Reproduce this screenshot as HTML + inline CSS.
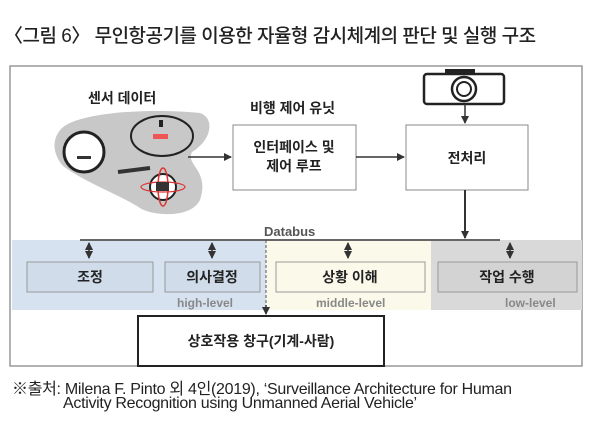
<!DOCTYPE html>
<html><head><meta charset="utf-8"><style>
body{margin:0;width:600px;height:431px;background:#fff;overflow:hidden;font-family:"Liberation Sans","Noto Sans CJK KR",sans-serif;}
.a{position:absolute}
.t{font-size:19px;left:4px;top:21px;color:#222;letter-spacing:-0.5px;font-weight:500}
.s{font-size:16px;color:#222;left:12px;letter-spacing:-0.3px}
</style></head><body>
<div class="a t">〈그림 6〉 무인항공기를 이용한 자율형 감시체계의 판단 및 실행 구조</div>
<svg class="a" style="left:0;top:0" width="600" height="431" xmlns="http://www.w3.org/2000/svg" font-family="Liberation Sans,Noto Sans CJK KR,sans-serif">
<defs><marker id="ar" markerUnits="userSpaceOnUse" markerWidth="8" markerHeight="8" refX="7" refY="4" orient="auto"><path d="M0,0 L8,4 L0,8 z" fill="#333"/></marker>
<marker id="ar2" markerUnits="userSpaceOnUse" markerWidth="8" markerHeight="8" refX="7" refY="4" orient="auto-start-reverse"><path d="M0,0 L8,4 L0,8 z" fill="#333"/></marker></defs>
<rect x="10" y="66" width="572" height="300" fill="#fff" stroke="#999" stroke-width="1.5"/>
<path d="M62,128 C80,112 150,108 200,113 C215,118 212,140 192,152 C185,165 210,170 200,200 C190,220 150,215 140,208 C120,195 80,180 62,165 C52,152 52,138 62,128Z" fill="#c8c8c8"/>
<circle cx="84" cy="152" r="20" fill="#fff" stroke="#222" stroke-width="3"/>
<rect x="77" y="156" width="14" height="3" fill="#333"/>
<ellipse cx="162" cy="136" rx="31" ry="20" fill="none" stroke="#222" stroke-width="2"/>
<rect x="159" y="120" width="4" height="7" fill="#222"/><rect x="153" y="134" width="15" height="5" fill="#e55"/>
<path d="M118,172 L150,168" stroke="#333" stroke-width="4"/>
<circle cx="163" cy="187" r="13" fill="#fff" stroke="#222" stroke-width="2"/>
<ellipse cx="163" cy="187" rx="5" ry="19" fill="none" stroke="#d33" stroke-width="1.5"/>
<ellipse cx="163" cy="187" rx="22" ry="5" fill="none" stroke="#d33" stroke-width="1.2"/>
<rect x="156" y="182" width="13" height="9" fill="#333"/>
<text x="88" y="103" font-size="14" font-weight="bold" fill="#222">센서 데이터</text>
<text x="250" y="113" font-size="14" font-weight="bold" fill="#222">비행 제어 유닛</text>
<line x1="188" y1="157" x2="231" y2="157" stroke="#333" stroke-width="1.5" marker-end="url(#ar)"/>
<rect x="233" y="125" width="123" height="65" fill="#fff" stroke="#888"/>
<text x="294" y="152" font-size="14" font-weight="bold" text-anchor="middle" fill="#222">인터페이스 및</text>
<text x="294" y="171" font-size="14" font-weight="bold" text-anchor="middle" fill="#222">제어 루프</text>
<line x1="356" y1="157" x2="404" y2="157" stroke="#333" stroke-width="1.5" marker-end="url(#ar)"/>
<rect x="406" y="125" width="122" height="65" fill="#fff" stroke="#888"/>
<text x="467" y="163" font-size="14" font-weight="bold" text-anchor="middle" fill="#222">전처리</text>
<rect x="424" y="74" width="80" height="30" rx="3" fill="#fff" stroke="#222" stroke-width="2.5"/>
<rect x="445" y="69" width="30" height="6" fill="#222"/>
<circle cx="464" cy="89" r="12" fill="none" stroke="#222" stroke-width="2.5"/><circle cx="464" cy="89" r="7" fill="none" stroke="#222" stroke-width="2"/>
<line x1="465" y1="104" x2="465" y2="123" stroke="#333" stroke-width="1.5" marker-end="url(#ar)"/>
<line x1="465" y1="190" x2="465" y2="238" stroke="#333" stroke-width="2" marker-end="url(#ar)"/>
<rect x="12" y="240" width="254" height="70" fill="#d6e2f0"/>
<rect x="266" y="240" width="165" height="70" fill="#fbf9ea"/>
<rect x="431" y="240" width="151" height="70" fill="#d9d9d9"/>
<line x1="80" y1="240" x2="500" y2="240" stroke="#666" stroke-width="2"/>
<text x="264" y="236" font-size="13" font-weight="bold" fill="#555">Databus</text>
<line x1="266" y1="240" x2="266" y2="312" stroke="#555" stroke-dasharray="3,2"/>
<g stroke="#333" stroke-width="1.5">
<line x1="89" y1="243" x2="89" y2="258" marker-start="url(#ar2)" marker-end="url(#ar)"/>
<line x1="212" y1="243" x2="212" y2="258" marker-start="url(#ar2)" marker-end="url(#ar)"/>
<line x1="348" y1="243" x2="348" y2="258" marker-start="url(#ar2)" marker-end="url(#ar)"/>
<line x1="510" y1="243" x2="510" y2="258" marker-start="url(#ar2)" marker-end="url(#ar)"/>
</g>
<rect x="27" y="262" width="126" height="30" fill="#d0dcea" stroke="#999"/>
<rect x="165" y="262" width="95" height="30" fill="#d0dcea" stroke="#999"/>
<rect x="276" y="262" width="149" height="30" fill="#fbf9ea" stroke="#999"/>
<rect x="438" y="262" width="139" height="30" fill="#d3d3d3" stroke="#999"/>
<line x1="266" y1="305" x2="266" y2="314" stroke="#333" stroke-width="1.5" marker-end="url(#ar)"/>
<rect x="138" y="316" width="246" height="50" fill="#fff" stroke="#222" stroke-width="2"/>
<g font-size="14" font-weight="bold" text-anchor="middle" fill="#222">
<text x="90" y="282">조정</text><text x="212" y="282">의사결정</text><text x="350" y="282">상황 이해</text><text x="507" y="282">작업 수행</text>
<text x="261" y="346">상호작용 창구(기계-사람)</text></g>
<g font-size="12" font-weight="bold" fill="#888"><text x="177" y="307">high-level</text><text x="316" y="307">middle-level</text><text x="505" y="307">low-level</text></g>
</svg>
<div class="a s" style="top:375px">※출처: Milena F. Pinto 외 4인(2019), ‘Surveillance Architecture for Human</div>
<div class="a s" style="top:395px;left:63px">Activity Recognition using Unmanned Aerial Vehicle’</div>
</body></html>
